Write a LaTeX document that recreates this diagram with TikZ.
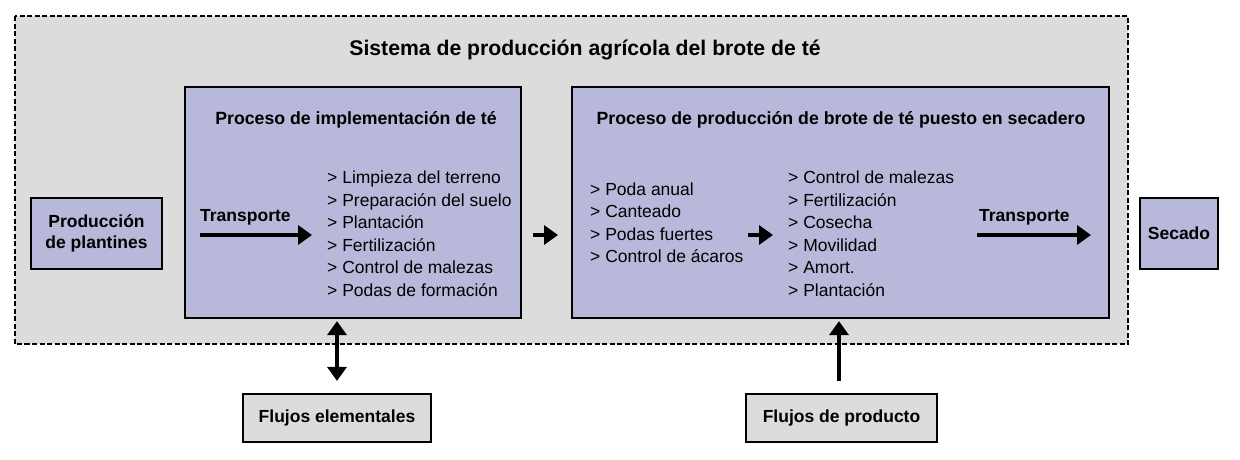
\documentclass[tikz,border=0pt]{standalone}
\usepackage{fontspec}
\setmainfont{Liberation Sans}
\usetikzlibrary{arrows.meta}
\definecolor{sysgray}{HTML}{DCDCDC}
\definecolor{lav}{HTML}{B8B8DA}
\tikzset{
  procbox/.style={draw=black, line width=2.2pt, fill=lav},
  smallbox/.style={draw=black, line width=2.2pt, fill=lav, inner sep=0pt, align=center, font=\fontsize{17.5}{21}\selectfont\bfseries},
  flowbox/.style={draw=black, line width=2.2pt, fill=sysgray, inner sep=0pt, align=center, font=\fontsize{17.5}{21}\selectfont\bfseries},
  listtext/.style={inner sep=0pt, anchor=west, align=left, font=\fontsize{17.5}{22.5}\selectfont},
  titletext/.style={inner sep=0pt, font=\fontsize{17.7}{21}\selectfont\bfseries},
  bigarrow/.style={line width=4pt, -{Triangle[length=14pt,width=19pt]}},
  dblarrow/.style={line width=4pt, {Triangle[length=14pt,width=19pt]}-{Triangle[length=14pt,width=19pt]}},
}
\begin{document}
\begin{tikzpicture}[x=1pt,y=-1pt]
\useasboundingbox (0,0) rectangle (1240,459);
% system box
\draw[fill=sysgray, line width=1.5pt, dash pattern=on 5pt off 2.5pt] (15,16) rectangle (1128,344);
\node[inner sep=0pt, font=\fontsize{21.2}{25}\selectfont\bfseries] (systitle) at (585,50) {Sistema de producción agrícola del brote de té};
% process boxes
\node[procbox, minimum width=336pt, minimum height=231pt, inner sep=0pt] (impl) at (353,202.5) {};
\node[procbox, minimum width=537pt, minimum height=231pt, inner sep=0pt] (prod) at (840.5,202.5) {};
\node[titletext] (impltitle) at (356,120) {Proceso de implementación de té};
\node[titletext] (prodtitle) at (841,120) {Proceso de producción de brote de té puesto en secadero};
% impl contents
\node[inner sep=0pt, anchor=west, font=\fontsize{17.5}{21}\selectfont\bfseries] (tr1) at (200,217) {Transporte};
\coordinate (tr1a) at (200,235);
\coordinate (tr1b) at (312,235);
\draw[bigarrow] (tr1a) -- (tr1b);
\node[listtext] (list1) at (327,233.5) {> Limpieza del terreno\\> Preparación del suelo\\> Plantación\\> Fertilización\\> Control de malezas\\> Podas de formación};
% between boxes
\coordinate (mida) at (533,235);
\coordinate (midb) at (558,235);
\draw[bigarrow] (mida) -- (midb);
% prod contents
\node[listtext] (list2) at (590,222.5) {> Poda anual\\> Canteado\\> Podas fuertes\\> Control de ácaros};
\coordinate (m2a) at (748,235);
\coordinate (m2b) at (773,235);
\draw[bigarrow] (m2a) -- (m2b);
\node[listtext] (list3) at (788,233.5) {> Control de malezas\\> Fertilización\\> Cosecha\\> Movilidad\\> Amort.\\> Plantación};
\node[inner sep=0pt, anchor=west, font=\fontsize{17.5}{21}\selectfont\bfseries] (tr2) at (979,217) {Transporte};
\coordinate (tr2a) at (977,235);
\coordinate (tr2b) at (1091,235);
\draw[bigarrow] (tr2a) -- (tr2b);
% side boxes
\node[smallbox, minimum width=131pt, minimum height=71pt] (plant) at (96.5,233.5) {Producción\\de plantines};
\node[smallbox, minimum width=78pt, minimum height=71pt] (secado) at (1179,233.5) {Secado};
% flow boxes
\node[flowbox, minimum width=188pt, minimum height=48pt] (fe) at (337,418) {Flujos elementales};
\node[flowbox, minimum width=191pt, minimum height=48pt] (fp) at (841.5,418) {Flujos de producto};
\draw[dblarrow, shorten >=2pt, shorten <=12pt] (fe.north -| 337,0) -- (impl.south -| 337,0);
\draw[bigarrow, shorten >=2pt, shorten <=12pt] (fp.north -| 839,0) -- (prod.south -| 839,0);
\end{tikzpicture}
\end{document}
